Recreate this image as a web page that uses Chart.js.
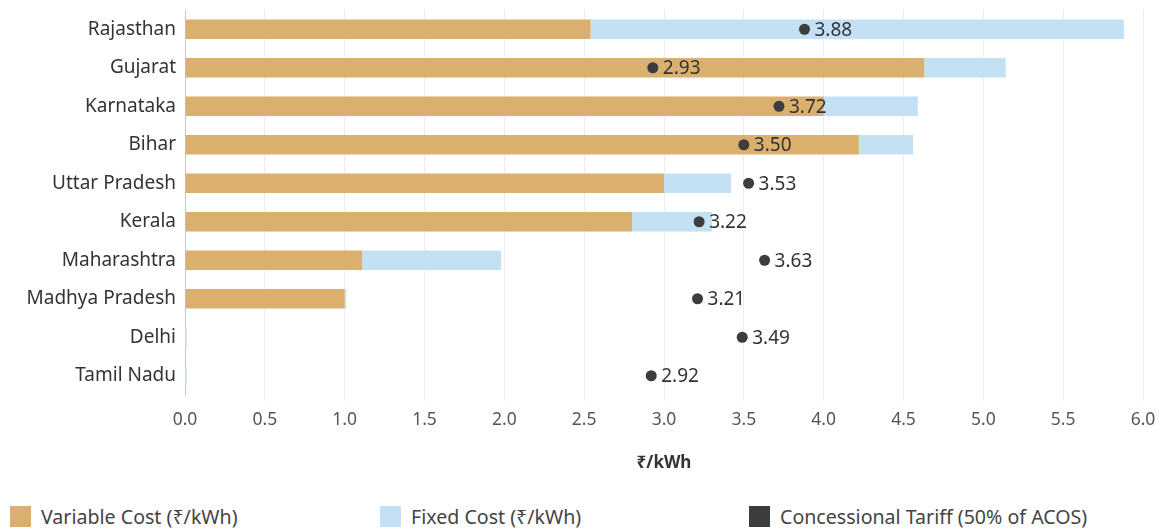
<!DOCTYPE html>
<html>
<head>
<meta charset="utf-8">
<script src="https://cdn.jsdelivr.net/npm/chart.js@4"></script>
<style>
  body { margin: 0; background: #fff; font-family: "Noto Sans", sans-serif; }
  #wrap { position: relative; width: 1162px; height: 529px; }
  #legend { position: absolute; left: 0; top: 503px; width: 1162px; height: 24px; }
  .item { position: absolute; top: 0; display: flex; align-items: center; font-size: 19.6px; color: #444; }
  .item span.box { display: inline-block; width: 21px; height: 21px; margin-right: 10px; }
</style>
</head>
<body>
<div id="wrap">
  <canvas id="myChart" width="1162" height="490"></canvas>
  <div id="legend"></div>
</div>
<script>
"use strict";

/* Data */
const states = ["Rajasthan", "Gujarat", "Karnataka", "Bihar", "Uttar Pradesh", "Kerala",
  "Maharashtra", "Madhya Pradesh", "Delhi", "Tamil Nadu"];
const variableCost = [2.54, 4.63, 4.00, 4.22, 3.00, 2.80, 1.11, 1.00, 0, 0];
const fixedCost = [3.34, 0.51, 0.59, 0.34, 0.42, 0.50, 0.87, 0.01, 0.01, 0.01];
const concessionalTariff = [3.88, 2.93, 3.72, 3.50, 3.53, 3.22, 3.63, 3.21, 3.49, 2.92];
const seriesNames = ["Variable Cost (₹/kWh)", "Fixed Cost (₹/kWh)", "Concessional Tariff (50% of ACOS)"];
const seriesColors = ["#dbb06f", "#c3e0f4", "#3d3d3d"];
const axisMax = 6;
const axisStep = 0.5;
const axisTitle = "₹/kWh";

const fontFamily = '"Noto Sans", sans-serif';

/* Skriver värdet bredvid varje punkt */
const pointLabels = {
  id: "pointLabels",
  afterDatasetsDraw(chart) {
    const ctx = chart.ctx;
    const meta = chart.getDatasetMeta(2);
    ctx.save();
    ctx.font = "19px " + fontFamily;
    ctx.fillStyle = "#333";
    ctx.textBaseline = "middle";
    meta.data.forEach((pt, i) => {
      ctx.fillText(concessionalTariff[i].toFixed(2), pt.x + 10, pt.y + 1);
    });
    ctx.restore();
  }
};

function createChart() {
  const ctx = document.getElementById("myChart");
  new Chart(ctx, {
    type: "bar",
    data: {
      labels: states,
      datasets: [
        {
          label: seriesNames[0],
          data: variableCost,
          backgroundColor: seriesColors[0],
          stack: "cost",
          barPercentage: 0.51,
          categoryPercentage: 1,
          order: 2
        },
        {
          label: seriesNames[1],
          data: fixedCost,
          backgroundColor: seriesColors[1],
          stack: "cost",
          barPercentage: 0.51,
          categoryPercentage: 1,
          order: 2
        },
        {
          type: "line",
          label: seriesNames[2],
          data: concessionalTariff,
          indexAxis: "y",
          showLine: false,
          stack: "tariff",
          pointRadius: 5.5,
          pointBackgroundColor: seriesColors[2],
          pointBorderWidth: 0,
          order: 1
        }
      ]
    },
    options: {
      indexAxis: "y",
      responsive: false,
      animation: false,
      layout: { padding: { top: 10, left: 0, right: 19, bottom: 15 } },
      plugins: {
        legend: { display: false },
        tooltip: { enabled: false }
      },
      scales: {
        x: {
          stacked: true,
          min: 0,
          max: axisMax,
          afterFit: (scale) => {
            scale.height = 80;
            scale.paddingLeft = 0;
            scale.paddingRight = 0;
          },
          ticks: {
            stepSize: axisStep,
            padding: 9,
            color: "#555",
            font: { family: fontFamily, size: 17.5 },
            callback: (v) => v.toFixed(1)
          },
          grid: {
            color: (c) => c.tick && c.tick.value === 0 ? "rgba(0,0,0,0)" : "#ececec",
            tickLength: 6
          },
          border: { display: false },
          title: {
            display: true,
            text: axisTitle,
            color: "#333",
            font: { family: fontFamily, size: 17, weight: "bold" },
            padding: { top: 0, bottom: 2 }
          }
        },
        y: {
          stacked: true,
          afterFit: (scale) => {
            scale.width = 185;
            scale.paddingTop = 0;
            scale.paddingBottom = 0;
          },
          ticks: {
            padding: 9,
            color: "#333",
            font: { family: fontFamily, size: 19 }
          },
          grid: { display: false, drawTicks: false },
          border: { display: true, color: "#c8c8c8", dash: [3, 3], width: 1 }
        }
      }
    },
    plugins: [pointLabels]
  });
}

/* Egen förklaring under diagrammet */
function createLegend() {
  const legendEl = document.getElementById("legend");
  const lefts = [10, 380, 749];
  seriesNames.forEach((name, i) => {
    const item = document.createElement("div");
    item.className = "item";
    item.style.left = lefts[i] + "px";
    const box = document.createElement("span");
    box.className = "box";
    box.style.background = seriesColors[i];
    item.appendChild(box);
    item.appendChild(document.createTextNode(name));
    legendEl.appendChild(item);
  });
}

createChart();
createLegend();
</script>
</body>
</html>
